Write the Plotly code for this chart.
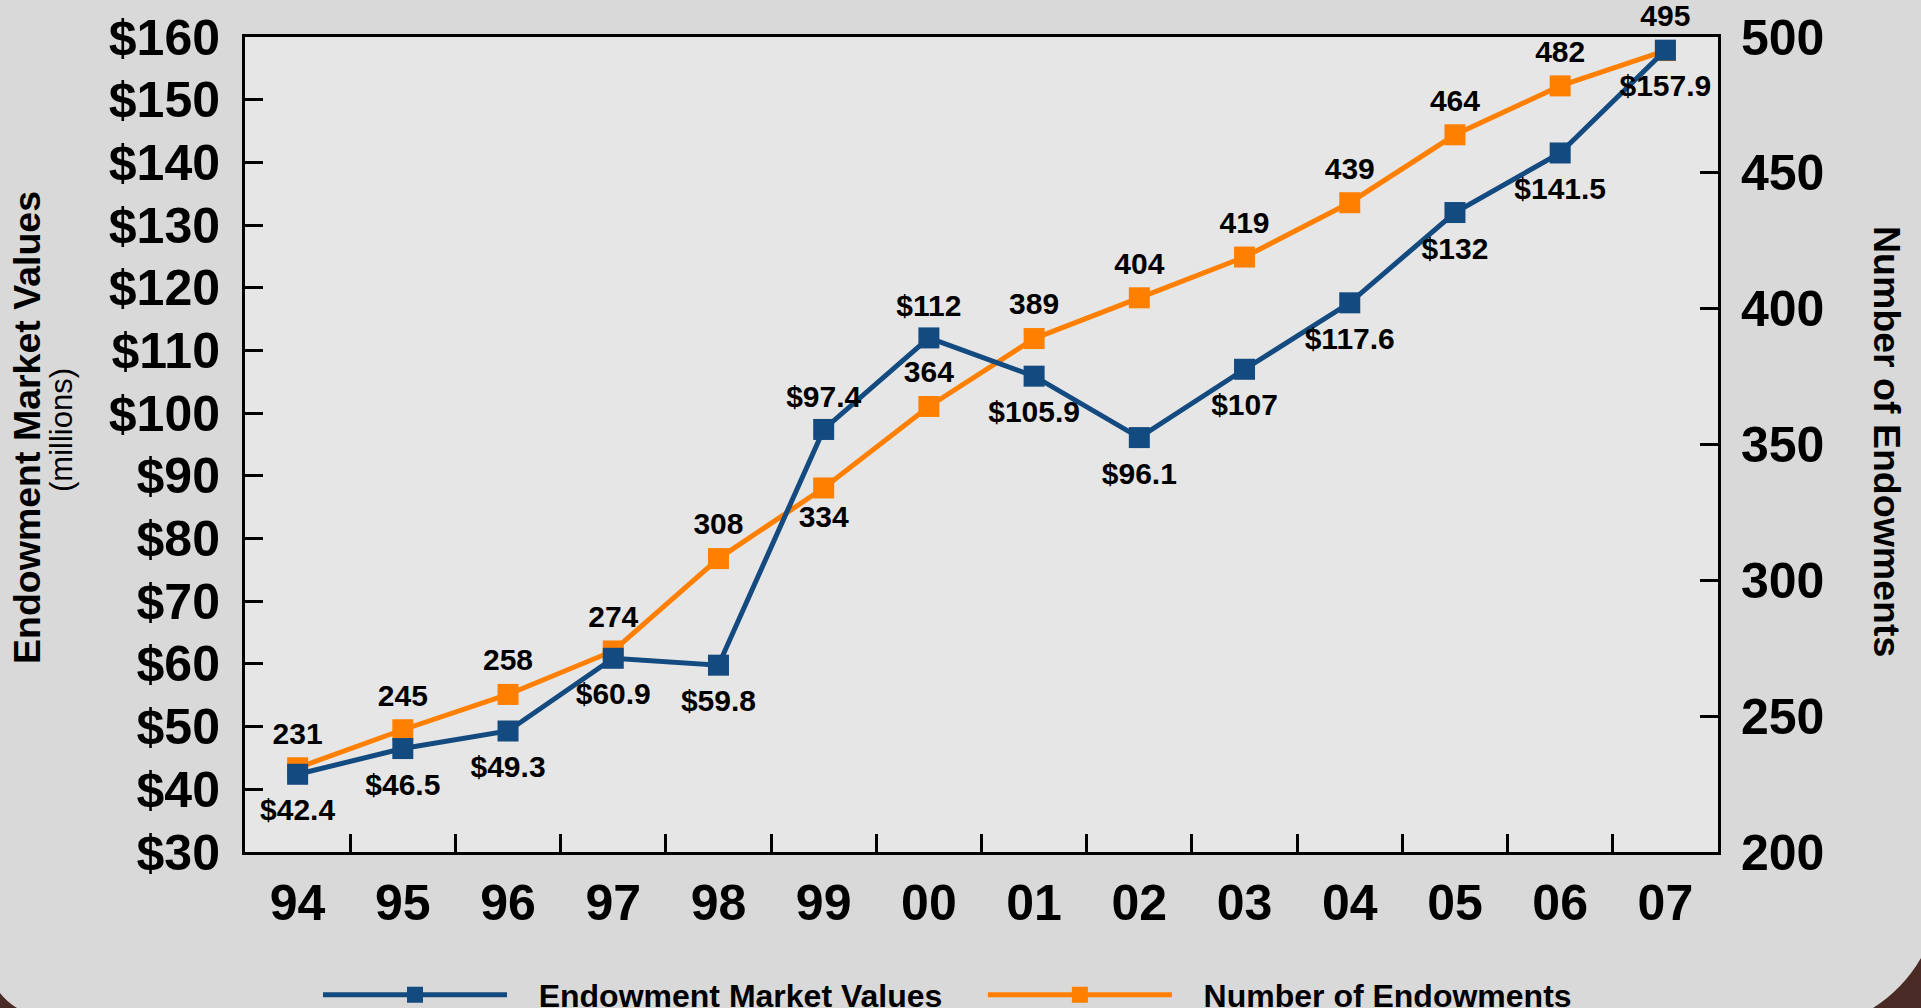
import plotly.graph_objects as go

years = ["94", "95", "96", "97", "98", "99", "00", "01", "02", "03", "04", "05", "06", "07"]
market_values = [42.4, 46.5, 49.3, 60.9, 59.8, 97.4, 112, 105.9, 96.1, 107, 117.6, 132, 141.5, 157.9]
num_endowments = [231, 245, 258, 274, 308, 334, 364, 389, 404, 419, 439, 464, 482, 495]
value_text_pos = ["bottom center"] * 5 + ["top center", "top center"] + ["bottom center"] * 7
count_text_pos = ["top center"] * 5 + ["bottom center"] + ["top center"] * 8
left_ticks = list(range(30, 161, 10))
right_ticks = list(range(200, 501, 50))

BLUE = "#134a80"
ORANGE = "#ff8000"
FONT = "Arial, Liberation Sans, sans-serif"
NB = "\u00a0"

# plot area in pixels (figure 1921 x 1008)
W, H = 1921, 1008
PL, PR, PT, PB = 245, 1718, 37, 852


def px_x(x):
    return (x - PL) / (PR - PL)


def px_y(y):
    return (PB - y) / (PB - PT)


label_font = dict(family=FONT, size=30, color="black", weight="bold")
hidden_marker = dict(color="rgba(0,0,0,0)", opacity=0, line=dict(width=0))

fig = go.Figure()
# orange on the base (right) axis, blue on the overlay so its markers sit on top
fig.add_trace(go.Scatter(
    x=years, y=num_endowments, name=NB * 3 + "Number of Endowments", yaxis="y",
    mode="lines+markers",
    line=dict(color=ORANGE, width=5),
    marker=dict(symbol="square", size=21, color=ORANGE),
    legendrank=2, hoverinfo="skip",
))
# value labels: invisible markers only set how far the text sits from the point
fig.add_trace(go.Scatter(
    x=years, y=num_endowments, yaxis="y", mode="markers+text", showlegend=False,
    marker=dict(size=25, **hidden_marker),
    text=[str(v) for v in num_endowments], textposition=count_text_pos,
    textfont=label_font, cliponaxis=False, hoverinfo="skip",
))
fig.add_trace(go.Scatter(
    x=years, y=market_values, name=NB * 3 + "Endowment Market Values" + NB * 4, yaxis="y2",
    mode="lines+markers",
    line=dict(color=BLUE, width=5),
    marker=dict(symbol="square", size=21, color=BLUE),
    legendrank=1, hoverinfo="skip",
))
fig.add_trace(go.Scatter(
    x=years, y=market_values, yaxis="y2", mode="markers+text", showlegend=False,
    marker=dict(size=[36 if p.startswith("bottom") else 22 for p in value_text_pos], **hidden_marker),
    text=[f"${v:g}" for v in market_values], textposition=value_text_pos,
    textfont=label_font, cliponaxis=False, hoverinfo="skip",
))

axis_common = dict(
    showline=True, linecolor="black", linewidth=3,
    ticks="inside", ticklen=18, tickwidth=3, tickcolor="black",
    showgrid=False, zeroline=False,
    tickfont=dict(family=FONT, size=50, color="black", weight="bold"),
)

fig.update_layout(
    width=W, height=H,
    paper_bgcolor="#d9d9d9",
    plot_bgcolor="#e6e6e6",
    margin=dict(l=PL, r=W - PR, t=PT, b=H - PB, pad=0, autoexpand=False),
    font=dict(family=FONT, color="black"),
    xaxis=dict(type="category", range=[-0.5, 13.5], tickson="boundaries",
               mirror=True, ticklabelstandoff=5, **axis_common),
    yaxis=dict(range=[200, 500], tickvals=right_ticks, side="right",
               ticklabelstandoff=10, **axis_common),
    yaxis2=dict(range=[30, 160], tickvals=left_ticks, overlaying="y", side="left",
                ticktext=[f"${v}" for v in left_ticks], ticklabelstandoff=12, **axis_common),
    showlegend=True,
    legend=dict(orientation="h", x=px_x(318), xanchor="left", y=px_y(995), yanchor="middle",
                bgcolor="rgba(0,0,0,0)", itemwidth=184,
                font=dict(family=FONT, size=32, color="black", weight="bold")),
    annotations=[
        dict(text="Endowment Market Values", x=px_x(27), y=px_y(428), xref="paper", yref="paper",
             xanchor="center", yanchor="middle", showarrow=False, textangle=-90,
             font=dict(family=FONT, size=37.5, weight="bold")),
        dict(text="(millions)", x=px_x(61), y=px_y(430), xref="paper", yref="paper",
             xanchor="center", yanchor="middle", showarrow=False, textangle=-90,
             font=dict(family=FONT, size=31)),
        dict(text="Number of Endowments", x=px_x(1887), y=px_y(441), xref="paper", yref="paper",
             xanchor="center", yanchor="middle", showarrow=False, textangle=90,
             font=dict(family=FONT, size=37.5, weight="bold")),
    ],
    shapes=[
        # dark slide background peeking out at the rounded bottom corners
        dict(type="path", xref="paper", yref="paper", layer="below", line_width=0,
             fillcolor="#4a2a24",
             path=f"M {px_x(0)},{px_y(993)} Q {px_x(7)},{px_y(1002)} {px_x(17)},{px_y(1008)} "
                  f"L {px_x(0)},{px_y(1008)} Z"),
        dict(type="path", xref="paper", yref="paper", layer="below", line_width=0,
             fillcolor="#4a2a24",
             path=f"M {px_x(1873)},{px_y(1008)} Q {px_x(1903)},{px_y(989)} {px_x(1921)},{px_y(958)} "
                  f"L {px_x(1921)},{px_y(1008)} Z"),
    ],
)

fig.write_html(
    "out.html",
    config={"displayModeBar": False},
    post_script="document.body.style.margin='0';document.body.style.overflow='hidden';",
)
